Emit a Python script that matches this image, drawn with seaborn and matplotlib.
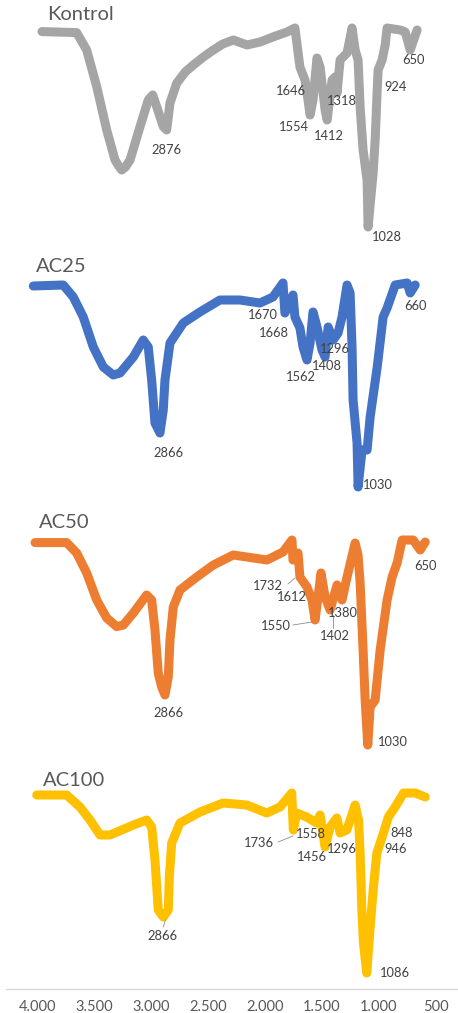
import matplotlib
matplotlib.use("Agg")
import matplotlib.pyplot as plt
import seaborn as sns

sns.set_theme(style="white")
plt.rcParams["font.family"] = ["Lato", "DejaVu Sans"]

# FTIR spectra, wavenumber (cm-1) vs relative transmittance
samples = ["Kontrol", "AC25", "AC50", "AC100"]
colors = ["#A5A5A5", "#4472C4", "#ED7D31", "#FFC000"]

wn_kontrol = [3959, 3654, 3566, 3478, 3390, 3317, 3285, 3258, 3225, 3185, 3097, 3025, 2986,
              2951, 2893, 2863, 2834, 2775, 2700, 2629, 2540, 2453, 2370, 2277, 2157, 2043,
              1929, 1806, 1736, 1692, 1648, 1621, 1603, 1577, 1542, 1515, 1471, 1453, 1409,
              1383, 1366, 1339, 1278, 1234, 1207, 1181, 1163, 1137, 1102, 1093, 1049, 1031,
              1013, 1005, 970, 943, 926, 811, 767, 723, 662]
t_kontrol = [98.2, 97.7, 89, 70.7, 49, 34, 31, 29, 30.5, 34, 50.7, 64, 66.5,
             60.7, 50.7, 49, 62.5, 72.4, 78, 81.5, 85.5, 89, 92, 94, 91.5, 93,
             95.5, 98, 100, 80.5, 74, 64, 56.5, 64, 85, 80.5, 59, 54, 74,
             75.5, 67.5, 84, 87.5, 100, 89, 84, 60.5, 39, 24, 0.5, 27.5, 44,
             69, 79, 84, 91.5, 100, 99, 98, 89, 99]

wn_ac25 = [4035, 3772, 3684, 3596, 3508, 3420, 3332, 3273, 3156, 3069, 3025, 2995,
           2966, 2922, 2893, 2878, 2834, 2717, 2571, 2395, 2219, 2043, 1929, 1841,
           1824, 1753, 1736, 1692, 1665, 1630, 1603, 1577, 1542, 1498, 1471, 1444,
           1400, 1357, 1322, 1278, 1251, 1234, 1225, 1190, 1181, 1146, 1102, 1075,
           1013, 961, 926, 855, 750, 723, 679]
t_ac25 = [98.5, 99, 93, 83, 68, 58, 54, 55, 63, 71.5, 68, 51.5,
          30, 25, 36.5, 51.5, 70, 80, 85.5, 91.5, 91.5, 90, 93, 100,
          85, 94, 83, 77.5, 68, 61.5, 70, 85.5, 78, 66.5, 63, 78,
          71.5, 75, 83, 99, 95, 68, 41.5, 20, -2, 16.5, 16.5, 33,
          58, 83, 87.5, 99, 100, 95, 99]

wn_ac50 = [4020, 3742, 3654, 3566, 3478, 3390, 3302, 3244, 3156, 3039, 2995, 2966,
           2937, 2907, 2878, 2849, 2834, 2805, 2746, 2599, 2453, 2278, 1982, 1841,
           1762, 1753, 1709, 1692, 1630, 1586, 1559, 1533, 1507, 1471, 1427, 1366,
           1322, 1278, 1207, 1181, 1163, 1137, 1119, 1096, 1075, 1031, 987, 926,
           882, 838, 794, 697, 635, 591]
t_ac50 = [98.7, 98.7, 93.5, 83.5, 70, 61, 56.7, 57.5, 63.5, 72.5, 70, 55,
          33.5, 26.5, 22.5, 31.5, 50, 66.5, 75, 81.5, 87.5, 92.5, 90, 94,
          100, 90, 93.5, 81.5, 76.5, 70, 60, 71.5, 83.5, 71.5, 65, 77.5,
          70, 81.5, 98.5, 92.5, 78.5, 45, 20, -2.5, 16.5, 20, 45, 70,
          81.5, 88.5, 100, 100, 95, 99]

wn_ac100 = [4005, 3742, 3625, 3537, 3449, 3361, 3156, 3039, 2995, 2966, 2937, 2893,
            2849, 2840, 2819, 2746, 2570, 2366, 2160, 1984, 1866, 1764, 1750, 1720,
            1633, 1545, 1515, 1471, 1427, 1368, 1339, 1280, 1207, 1177, 1163, 1148,
            1134, 1105, 1075, 1046, 1016, 958, 915, 855, 781, 679, 591]
t_ac100 = [99, 99, 93, 86.5, 79, 79, 84, 86.5, 83, 66.5, 41.5, 38,
           41.5, 58, 75, 85, 90.5, 95, 94, 90, 93, 100, 81.5, 90,
           88, 85, 89, 73, 83, 87.5, 80, 81.5, 94, 86.5, 70, 41.5,
           25, 10, 33, 53, 70, 80, 88, 93, 100, 100, 98]

wavenumbers = [wn_kontrol, wn_ac25, wn_ac50, wn_ac100]
transmittance = [t_kontrol, t_ac25, t_ac50, t_ac100]

# peak labels per panel (text, x, y)
peak_labels = [
    [("2876", 2869, 39), ("1646", 1770, 68.5), ("1554", 1743, 50.5), ("1412", 1436, 46),
     ("1318", 1322, 63.5), ("924", 856, 70.5), ("650", 698, 84), ("1028", 926, -4.5)],
    [("2866", 2852, 15), ("1670", 2017, 84), ("1668", 1920, 75), ("1562", 1683, 53),
     ("1408", 1454, 58.5), ("1296", 1383, 67), ("660", 680, 88.5), ("1030", 1005, -1)],
    [("2866", 2852, 13.5), ("1732", 1973, 77), ("1612", 1762, 71.5), ("1550", 1902, 57),
     ("1402", 1383, 52), ("1380", 1313, 63.5), ("650", 591, 87), ("1030", 873, -1)],
    [("2866", 2904, 28.5), ("1736", 2052, 75), ("1558", 1595, 79.5), ("1456", 1586, 68),
     ("1296", 1322, 72), ("848", 802, 80), ("946", 855, 72), ("1086", 855, 10)],
]
leaders = [
    [],
    [],
    [((1797, 1736), (78, 81)), ((1753, 1586), (57.5, 59)), ((1400, 1400), (56, 62.5))],
    [((1884, 1753), (75.5, 78.5)), ((2893, 2874), (33, 36.5))],
]

xticks = [4000, 3500, 3000, 2500, 2000, 1500, 1000, 500]
xtick_labels = [f"{v:,}".replace(",", ".") for v in xticks]

W, H = 458, 1013
fig = plt.figure(figsize=(W / 100, H / 100), dpi=100)

trace_top = [28, 283, 540, 793]     # pixel row of T=100 per panel
title_pos = [(47, 14), (36, 266), (39, 523), (43, 781)]
px_per_t = 2.0

for i, name in enumerate(samples):
    top = trace_top[i]
    t_hi = 105
    t_lo = -10 if i < 3 else 2
    y_top_px = top - (t_hi - 100) * px_per_t
    y_bot_px = top + (100 - t_lo) * px_per_t
    ax = fig.add_axes([6 / W, 1 - y_bot_px / H, 452 / W, (y_bot_px - y_top_px) / H])
    ax.patch.set_alpha(0)
    sns.lineplot(x=wavenumbers[i], y=transmittance[i], ax=ax, color=colors[i],
                 lw=6.5, sort=False, estimator=None, solid_joinstyle="round",
                 solid_capstyle="round")
    ax.set_xlim(4275, 303)
    ax.set_ylim(t_lo, t_hi)
    ax.set_xlabel("")
    ax.set_ylabel("")
    ax.set_yticks([])
    for s in ["top", "left", "right"]:
        ax.spines[s].set_visible(False)
    if i < 3:
        ax.spines["bottom"].set_visible(False)
        ax.set_xticks([])
    else:
        ax.spines["bottom"].set_color("#D9D9D9")
        ax.spines["bottom"].set_linewidth(1.0)
        ax.set_xticks(xticks)
        ax.set_xticklabels(xtick_labels)
        ax.tick_params(axis="x", length=0, pad=8, labelsize=10.5, labelcolor="#595959")
    for txt, x, y in peak_labels[i]:
        ax.text(x, y, txt, ha="center", va="center", fontsize=9.3, color="#404040",
                clip_on=False)
    for xs, ys in leaders[i]:
        ax.plot(xs, ys, color="#8C8C8C", lw=0.6)
    tx, ty = title_pos[i]
    fig.text(tx / W, 1 - ty / H, name, ha="left", va="center", fontsize=14.5,
             color="#595959")

fig.savefig("out.png", dpi=100, facecolor="white")
